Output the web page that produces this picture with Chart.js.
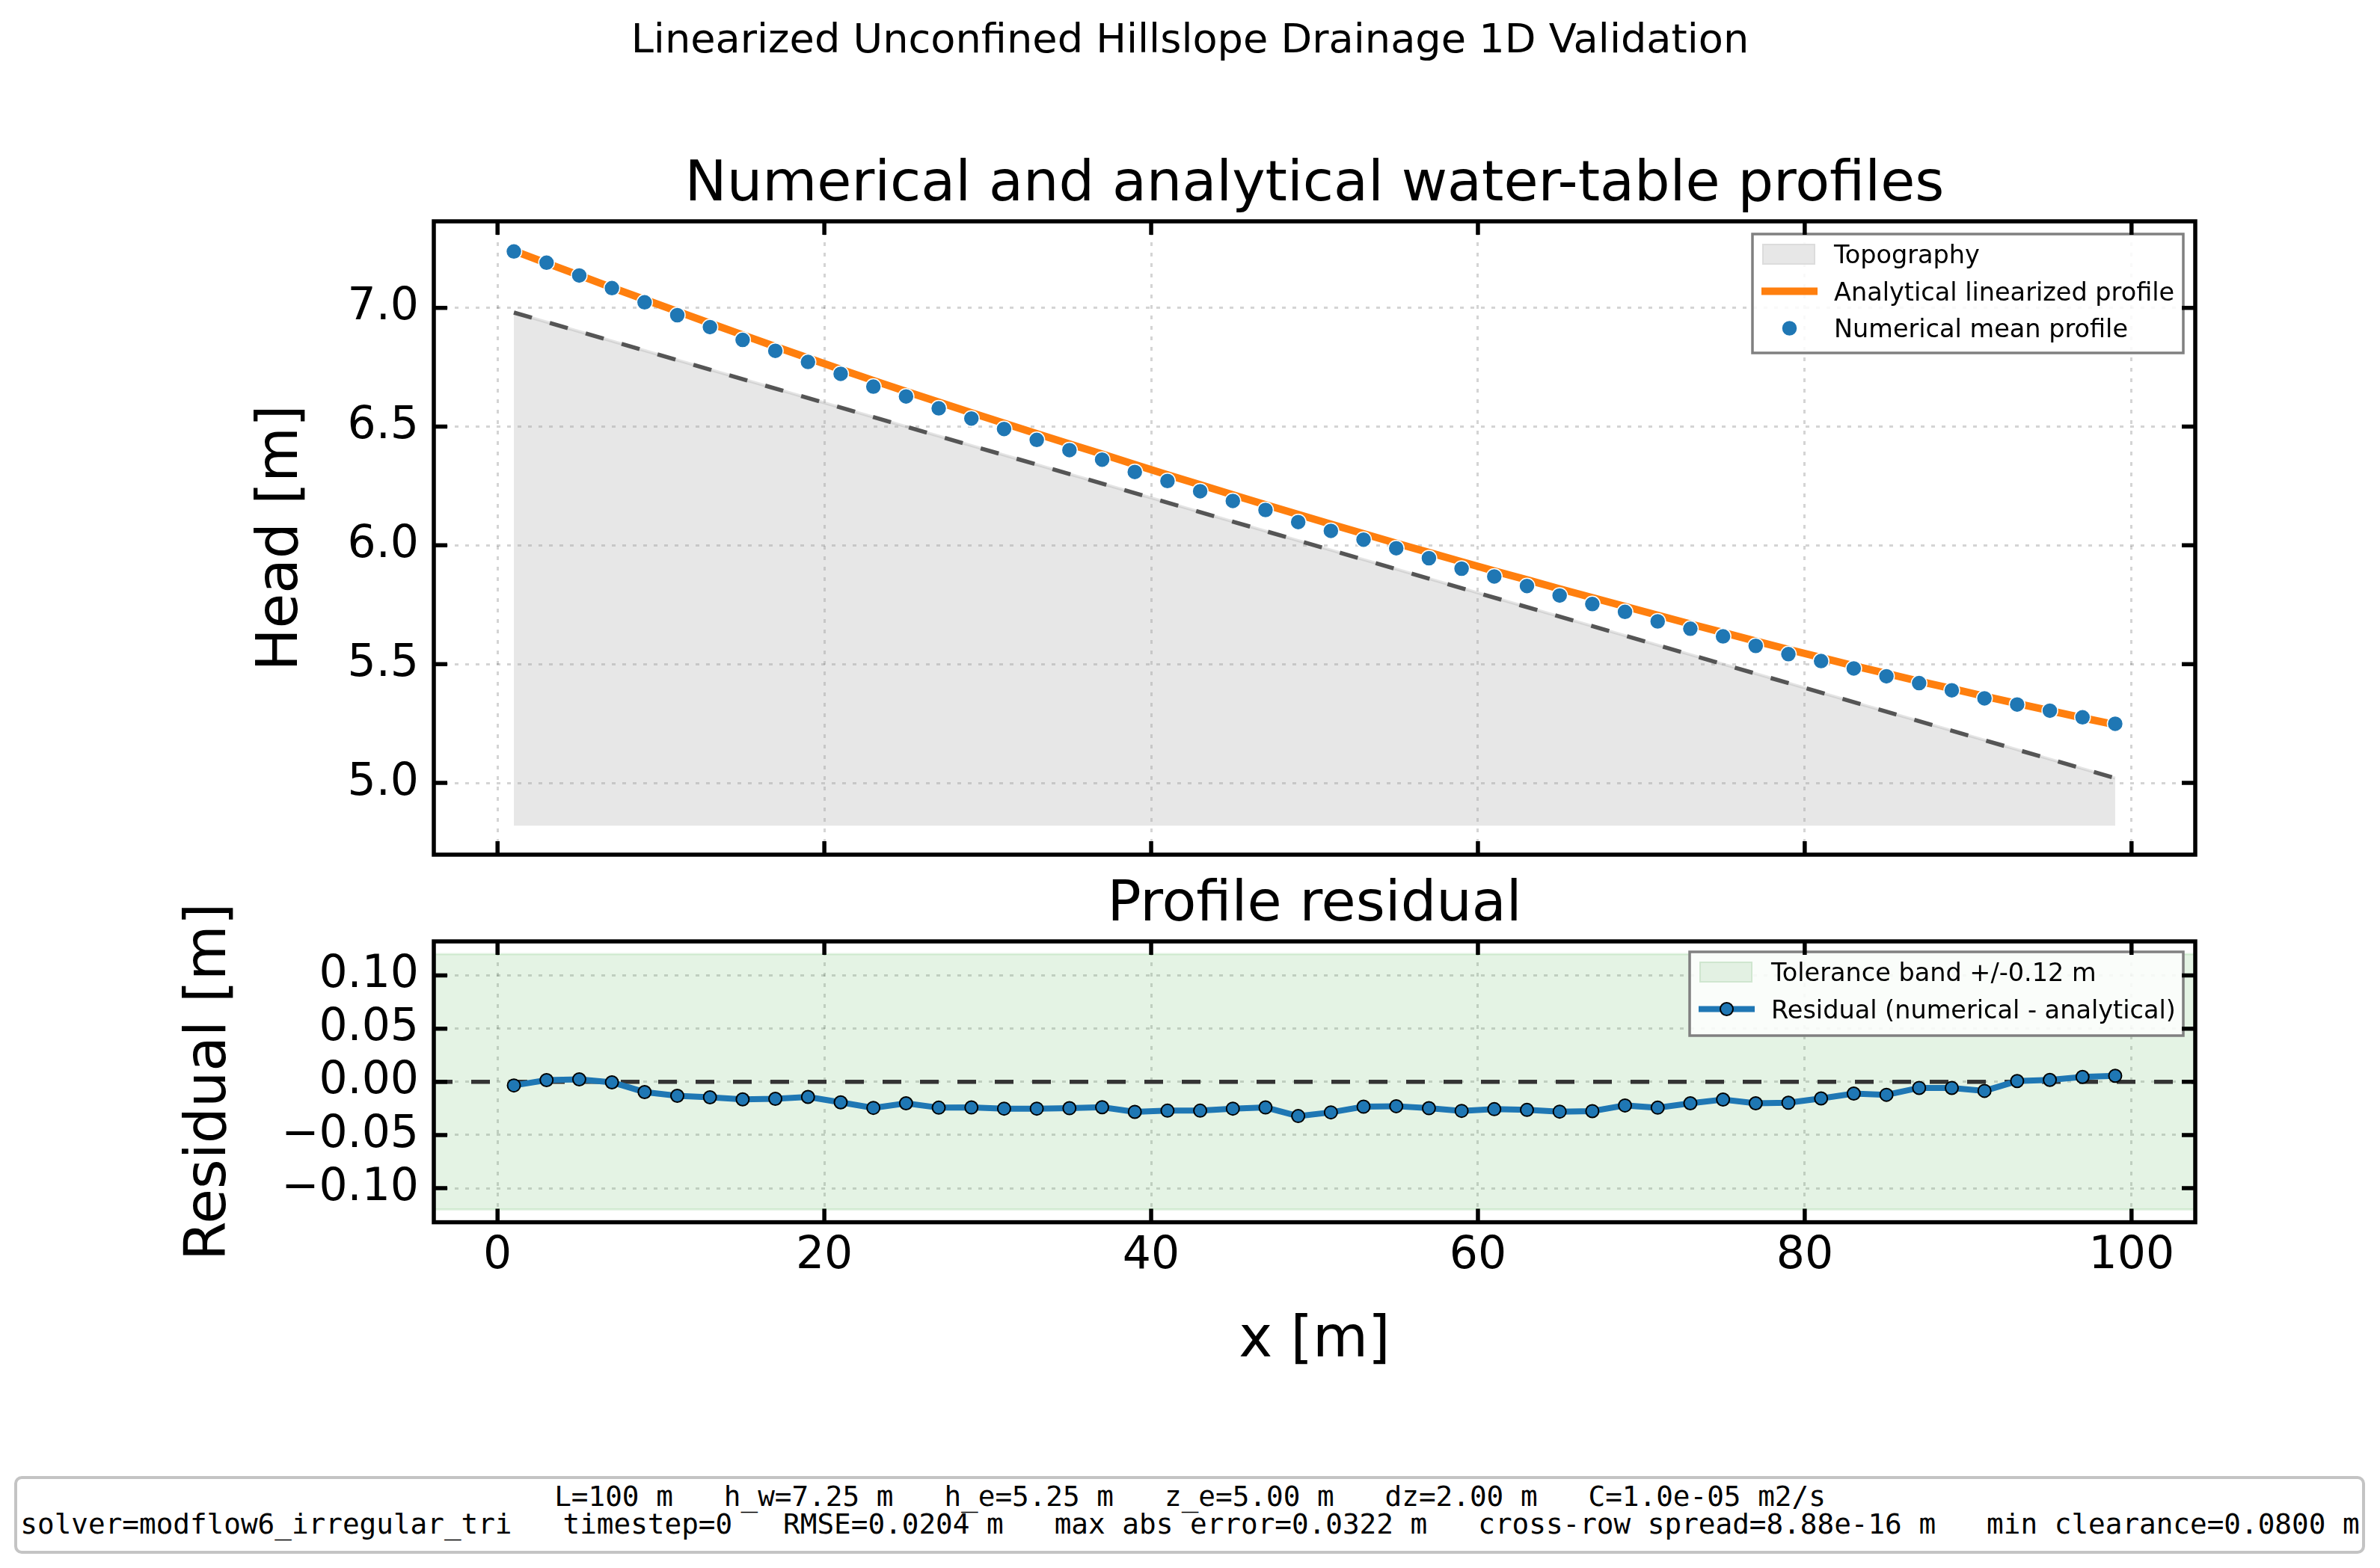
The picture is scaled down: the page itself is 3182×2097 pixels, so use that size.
<!DOCTYPE html>
<html>
<head>
<meta charset="utf-8">
<title>Linearized Unconfined Hillslope Drainage 1D Validation</title>
<script src="https://cdn.jsdelivr.net/npm/chart.js@4.4.1/dist/chart.umd.min.js"></script>
<style>
  body { margin: 0; background: #fff; }
  #figure { position: relative; width: 3182px; height: 2097px; overflow: hidden; font-family: "DejaVu Sans", sans-serif; color: #000; }
  #suptitle { position: absolute; left: 0; top: 25px; width: 3182px; text-align: center; font-size: 54.2px; line-height: 54px; }
  .panel { position: absolute; left: 0; }
  #infoBox {
    position: absolute; left: 19px; top: 1974px; width: 3143px; height: 104px; box-sizing: border-box;
    border: 4px solid #c4c4c4; border-radius: 10px; background: #fff;
  }
  #info {
    position: absolute; left: 0; top: 1983px; width: 3182px;
    font-family: "DejaVu Sans Mono", monospace; font-size: 37.65px; line-height: 37px;
    text-align: center; white-space: pre;
  }
</style>
</head>
<body>
<div id="figure">
  <div id="suptitle">Linearized Unconfined Hillslope Drainage 1D Validation</div>
  <canvas id="headChart" class="panel" width="3182" height="1203" style="top:0;width:3182px;height:1203px"></canvas>
  <canvas id="residualChart" class="panel" width="3182" height="720" style="top:1150px;width:3182px;height:720px"></canvas>
  <div id="infoBox"></div>
  <div id="info">L=100 m   h_w=7.25 m   h_e=5.25 m   z_e=5.00 m   dz=2.00 m   C=1.0e-05 m2/s
solver=modflow6_irregular_tri   timestep=0   RMSE=0.0204 m   max abs error=0.0322 m   cross-row spread=8.88e-16 m   min clearance=0.0800 m</div>
</div>
<script>
// node positions along the hillslope [m]
const nodeX = [1, 3, 5, 7, 9, 11, 13, 15, 17, 19, 21, 23, 25, 27, 29, 31, 33, 35, 37, 39,
  41, 43, 45, 47, 49, 51, 53, 55, 57, 59, 61, 63, 65, 67, 69, 71, 73, 75, 77, 79,
  81, 83, 85, 87, 89, 91, 93, 95, 97, 99]

const numericalHead = [7.237, 7.190, 7.136, 7.083, 7.023, 6.969, 6.919, 6.865, 6.819, 6.772,
  6.722, 6.668, 6.627, 6.577, 6.534, 6.490, 6.444, 6.401, 6.361, 6.309,
  6.271, 6.228, 6.187, 6.149, 6.098, 6.061, 6.024, 5.988, 5.946, 5.902,
  5.869, 5.829, 5.789, 5.753, 5.720, 5.680, 5.649, 5.617, 5.577, 5.542,
  5.513, 5.482, 5.449, 5.420, 5.390, 5.356, 5.330, 5.304, 5.276, 5.249]

const analyticalHead = [7.240, 7.188, 7.137, 7.085, 7.035, 6.985, 6.935, 6.886, 6.837, 6.789,
  6.741, 6.694, 6.648, 6.603, 6.558, 6.514, 6.470, 6.427, 6.384, 6.340,
  6.297, 6.255, 6.213, 6.171, 6.130, 6.089, 6.049, 6.009, 5.970, 5.931,
  5.892, 5.855, 5.817, 5.780, 5.743, 5.706, 5.669, 5.633, 5.597, 5.562,
  5.528, 5.493, 5.461, 5.428, 5.397, 5.365, 5.334, 5.304, 5.274, 5.245]

const residual = [-0.0034, 0.0016, 0.0023, -0.0005, -0.0096, -0.0131, -0.0145, -0.0165, -0.0160, -0.0142,
  -0.0193, -0.0245, -0.0202, -0.0243, -0.0241, -0.0252, -0.0252, -0.0248, -0.0239, -0.0282,
  -0.0271, -0.0271, -0.0252, -0.0241, -0.0322, -0.0287, -0.0234, -0.0229, -0.0248, -0.0273,
  -0.0257, -0.0264, -0.0280, -0.0275, -0.0222, -0.0243, -0.0202, -0.0167, -0.0202, -0.0197,
  -0.0156, -0.0110, -0.0122, -0.0057, -0.0057, -0.0085, 0.0007, 0.0018, 0.0046, 0.0057]

// topography line (ends of the slope)
const topoX = [1, 99]
const topoZ = [6.98, 5.02]
const topoBase = 4.82
const tolerance = 0.12

const xTicks = [0, 20, 40, 60, 80, 100]
const headTicks = [5.0, 5.5, 6.0, 6.5, 7.0]
const residualTicks = [-0.1, -0.05, 0, 0.05, 0.1]

const xMin = -3.9
const xMax = 103.9

Chart.defaults.font.family = "'DejaVu Sans', sans-serif"
Chart.defaults.color = "#000"

const TICK_LEN = 18
const SPINE_W = 5.5

function points(xs, ys) {
  return xs.map((x, i) => ({ x, y: ys[i] }))
}

function fixedTicks(values) {
  return scale => {
    scale.ticks = values.map(value => ({ value }))
  }
}

const gridStyle = { color: "rgba(0, 0, 0, 0.17)", lineWidth: 3, drawTicks: false }
const gridBorder = { display: false, dash: [5, 9] }

function drawLegend(ctx, lg) {
  ctx.fillStyle = "rgba(255, 255, 255, 0.85)"
  ctx.fillRect(lg.x, lg.y, lg.w, lg.h)
  ctx.strokeStyle = "#808080"
  ctx.lineWidth = 3.5
  ctx.strokeRect(lg.x, lg.y, lg.w, lg.h)
  ctx.font = "33.5px 'DejaVu Sans'"
  ctx.textBaseline = "alphabetic"
  ctx.textAlign = "left"
  lg.items.forEach((it, i) => {
    const base = lg.y + 39 + i * 49.5
    const cy = base - 12
    const hx = lg.x + 12
    const hw = 75
    if (it.kind === "patch") {
      ctx.fillStyle = it.fill
      ctx.fillRect(lg.x + 14, cy - 13, 69, 26)
      ctx.strokeStyle = it.stroke
      ctx.lineWidth = 2
      ctx.strokeRect(lg.x + 14, cy - 13, 69, 26)
    }
    if (it.kind === "line" || it.kind === "linedot") {
      ctx.strokeStyle = it.color
      ctx.lineWidth = it.width
      ctx.beginPath()
      ctx.moveTo(hx, cy)
      ctx.lineTo(hx + hw, cy)
      ctx.stroke()
    }
    if (it.kind === "dot" || it.kind === "linedot") {
      ctx.beginPath()
      ctx.arc(hx + hw / 2, cy, it.radius, 0, Math.PI * 2)
      ctx.fillStyle = it.color
      ctx.fill()
      ctx.strokeStyle = it.edge
      ctx.lineWidth = it.edgeWidth
      ctx.stroke()
    }
    ctx.fillStyle = "#000"
    ctx.fillText(it.label, lg.x + 109, base)
  })
}

// inward ticks on all four sides, box spines and the in-axes legend
function axesFrame(legend) {
  return {
    id: "axesFrame",
    afterDraw(chart) {
      const { ctx, chartArea: a, scales } = chart
      ctx.save()
      drawLegend(ctx, legend)
      ctx.strokeStyle = "#000"
      ctx.lineWidth = SPINE_W
      ctx.setLineDash([])
      ctx.beginPath()
      scales.x.ticks.forEach(t => {
        const px = scales.x.getPixelForValue(t.value)
        ctx.moveTo(px, a.bottom)
        ctx.lineTo(px, a.bottom - TICK_LEN)
        ctx.moveTo(px, a.top)
        ctx.lineTo(px, a.top + TICK_LEN)
      })
      scales.y.ticks.forEach(t => {
        const py = scales.y.getPixelForValue(t.value)
        ctx.moveTo(a.left, py)
        ctx.lineTo(a.left + TICK_LEN, py)
        ctx.moveTo(a.right, py)
        ctx.lineTo(a.right - TICK_LEN, py)
      })
      ctx.stroke()
      ctx.strokeRect(a.left, a.top, a.right - a.left, a.bottom - a.top)
      ctx.restore()
    }
  }
}

const headLegend = {
  x: 2343, y: 313, w: 576, h: 159,
  items: [
    { label: "Topography", kind: "patch", fill: "#e7e7e7", stroke: "#dcdcdc" },
    { label: "Analytical linearized profile", kind: "line", color: "#ff7f0e", width: 10 },
    { label: "Numerical mean profile", kind: "dot", color: "#1f77b4", edge: "#fff", radius: 10.5, edgeWidth: 1.5 }
  ]
}

const residualLegend = {
  x: 2259, y: 123, w: 660, h: 112,
  items: [
    { label: "Tolerance band +/-0.12 m", kind: "patch", fill: "#e3f1e3", stroke: "#cfe6cf" },
    { label: "Residual (numerical - analytical)", kind: "linedot", color: "#1f77b4", width: 8, edge: "#000", radius: 8.5, edgeWidth: 2 }
  ]
}

// Profils numérique et analytique
new Chart(document.getElementById("headChart"), {
  type: "line",
  data: {
    datasets: [
      {
        label: "Topography",
        data: points(topoX, topoZ),
        fill: { value: topoBase },
        backgroundColor: "rgba(160, 160, 160, 0.25)",
        borderColor: "rgba(150, 150, 150, 0.25)",
        borderWidth: 4,
        pointRadius: 0,
        order: 3
      },
      {
        label: "Topography line",
        data: points(topoX, topoZ),
        fill: false,
        borderColor: "#555555",
        borderWidth: 5.5,
        borderDash: [25, 25],
        pointRadius: 0,
        order: 2
      },
      {
        label: "Analytical linearized profile",
        data: points(nodeX, analyticalHead),
        fill: false,
        borderColor: "#ff7f0e",
        borderWidth: 10,
        pointRadius: 0,
        order: 1
      },
      {
        label: "Numerical mean profile",
        data: points(nodeX, numericalHead),
        showLine: false,
        pointRadius: 10.5,
        pointHoverRadius: 10.5,
        pointBackgroundColor: "#1f77b4",
        pointBorderColor: "#ffffff",
        pointBorderWidth: 1.5,
        order: 0
      }
    ]
  },
  options: {
    responsive: false,
    animation: false,
    devicePixelRatio: 1,
    events: [],
    layout: { padding: { left: 331.4, right: 247, top: 204, bottom: 60 } },
    plugins: {
      legend: { display: false },
      tooltip: { enabled: false },
      title: {
        display: true,
        text: "Numerical and analytical water-table profiles",
        fullSize: false,
        color: "#000",
        font: { size: 75, weight: "normal" },
        padding: { top: 0, bottom: 2 }
      }
    },
    scales: {
      x: {
        type: "linear",
        min: xMin,
        max: xMax,
        afterBuildTicks: fixedTicks(xTicks),
        afterFit: scale => { scale.height = 0 },
        ticks: { display: false },
        grid: gridStyle,
        border: gridBorder
      },
      y: {
        type: "linear",
        min: 4.698,
        max: 7.364,
        afterBuildTicks: fixedTicks(headTicks),
        afterFit: scale => { scale.width = 248.6 },
        ticks: { font: { size: 60 }, padding: 20, callback: v => v.toFixed(1) },
        title: { display: true, text: "Head [m]", font: { size: 76 }, padding: 0 },
        grid: gridStyle,
        border: gridBorder
      }
    }
  },
  plugins: [axesFrame(headLegend)]
})

// Résidu
new Chart(document.getElementById("residualChart"), {
  type: "line",
  data: {
    datasets: [
      {
        label: "Tolerance band +/-0.12 m",
        data: points([xMin, xMax], [tolerance, tolerance]),
        fill: { value: -tolerance },
        backgroundColor: "rgba(44, 160, 44, 0.13)",
        borderColor: "rgba(44, 160, 44, 0.13)",
        borderWidth: 3,
        pointRadius: 0,
        order: 3
      },
      {
        label: "Tolerance band lower edge",
        data: points([xMin, xMax], [-tolerance, -tolerance]),
        fill: false,
        borderColor: "rgba(44, 160, 44, 0.13)",
        borderWidth: 3,
        pointRadius: 0,
        order: 3
      },
      {
        label: "Zero",
        data: points([xMin, xMax], [0, 0]),
        fill: false,
        borderColor: "#333333",
        borderWidth: 5.5,
        borderDash: [25, 25],
        pointRadius: 0,
        order: 1
      },
      {
        label: "Residual (numerical - analytical)",
        data: points(nodeX, residual),
        fill: false,
        borderColor: "#1f77b4",
        borderWidth: 8,
        pointRadius: 8.5,
        pointHoverRadius: 8.5,
        pointBackgroundColor: "#1f77b4",
        pointBorderColor: "#000000",
        pointBorderWidth: 2,
        order: 0
      }
    ]
  },
  options: {
    responsive: false,
    animation: false,
    devicePixelRatio: 1,
    events: [],
    layout: { padding: { left: 235.4, right: 247, top: 17, bottom: 30.4 } },
    plugins: {
      legend: { display: false },
      tooltip: { enabled: false },
      title: {
        display: true,
        text: "Profile residual",
        fullSize: false,
        color: "#000",
        font: { size: 75, weight: "normal" },
        padding: { top: 0, bottom: 2 }
      }
    },
    scales: {
      x: {
        type: "linear",
        min: xMin,
        max: xMax,
        afterBuildTicks: fixedTicks(xTicks),
        afterFit: scale => { scale.height = 205 },
        ticks: { font: { size: 60 }, padding: 10, maxRotation: 0, callback: v => String(v) },
        title: { display: true, text: "x [m]", font: { size: 76 }, padding: 0 },
        grid: gridStyle,
        border: gridBorder
      },
      y: {
        type: "linear",
        min: -0.132,
        max: 0.132,
        afterBuildTicks: fixedTicks(residualTicks),
        afterFit: scale => { scale.width = 344.6 },
        ticks: {
          font: { size: 60 },
          padding: 20,
          callback: v => (v < -1e-9 ? "\u2212" : "") + Math.abs(v).toFixed(2)
        },
        title: { display: true, text: "Residual [m]", font: { size: 76 }, padding: 0 },
        grid: gridStyle,
        border: gridBorder
      }
    }
  },
  plugins: [axesFrame(residualLegend)]
})
</script>
</body>
</html>
